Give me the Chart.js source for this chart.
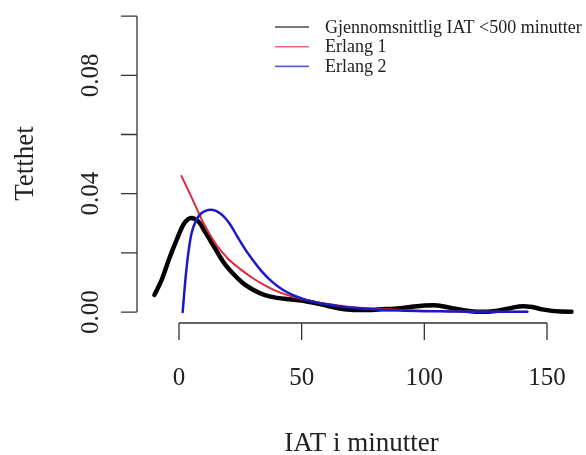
<!DOCTYPE html>
<html>
<head>
<meta charset="utf-8">
<script src="https://cdn.jsdelivr.net/npm/chart.js@4/dist/chart.umd.min.js"></script>
<style>
  body { margin: 0; background: #fff; }
  #wrap { width: 586px; height: 455px; }
</style>
</head>
<body>
<div id="wrap"><canvas id="myChart" width="586" height="455"></canvas></div>
<script>
// kernel density of mean IAT (< 500 min)
var densX = [-10, -7, -4, -1, 2, 5, 8, 11, 14, 18, 22, 26, 30, 35, 40, 45, 50, 55, 60, 65, 70, 75, 80, 85, 90, 95, 100, 104, 108, 112, 116, 120, 124, 128, 132, 136, 140, 144, 148, 152, 156, 160];
var densY = [0.0058, 0.011, 0.018, 0.0243, 0.0298, 0.0318, 0.0305, 0.0266, 0.0225, 0.017, 0.013, 0.0098, 0.0076, 0.0057, 0.0048, 0.0043, 0.0039, 0.0031, 0.0022, 0.0013, 0.0008, 0.0007, 0.0008, 0.001, 0.0013, 0.0018, 0.0022, 0.0023, 0.0019, 0.0012, 0.0006, 0.0002, 0.0001, 0.0003, 0.0008, 0.0015, 0.002, 0.0017, 0.0009, 0.0004, 0.0002, 0.0001];

// fitted Erlang 1
var erl1X = [1, 5, 10, 15, 20, 25, 30, 35, 40, 50, 60, 70, 80, 90, 100, 120, 142];
var erl1Y = [0.046, 0.039, 0.030, 0.023, 0.018, 0.0145, 0.0115, 0.009, 0.007, 0.0044, 0.0028, 0.0017, 0.0011, 0.0007, 0.0004, 0.0002, 0.0001];

// fitted Erlang 2
var erl2X = [1.5, 2.5, 3.5, 5, 7, 9, 11, 13, 15, 17, 19, 21, 24, 27, 30, 34, 38, 42, 46, 50, 55, 60, 65, 70, 75, 80, 90, 100, 110, 120, 130, 142];
var erl2Y = [0, 0.010, 0.018, 0.0262, 0.031, 0.0333, 0.0343, 0.0346, 0.0342, 0.0332, 0.0316, 0.0294, 0.0252, 0.0212, 0.0177, 0.0135, 0.0102, 0.0077, 0.0059, 0.0046, 0.0034, 0.0026, 0.002, 0.0015, 0.0012, 0.0009, 0.0005, 0.0003, 0.0002, 0.0001, 0.0001, 0.0001];

var xTicks = [0, 50, 100, 150];
var yTicks = [0, 0.02, 0.04, 0.06, 0.08, 0.10];
var yTickLabels = ['0.00', '', '0.04', '', '0.08', ''];

var seriesNames = ['Gjennomsnittlig IAT <500 minutter', 'Erlang 1', 'Erlang 2'];
var seriesColors = ['#000000', '#e0283c', '#1a1ac8'];

function points(xs, ys) {
    return xs.map(function(x, i) { return {x: x, y: ys[i]}; });
}

var serif = "'Liberation Serif', 'Times New Roman', serif";

// R-style axes, labels and legend
var baseAxes = {
    id: 'baseAxes',
    afterDraw: function(chart) {
        var ctx = chart.ctx;
        var xs = chart.scales.x, ys = chart.scales.y;
        var left = chart.chartArea.left, bottom = chart.chartArea.bottom;
        ctx.save();
        ctx.strokeStyle = '#333';
        ctx.lineWidth = 1.3;
        ctx.fillStyle = '#222';

        // y axis
        ctx.beginPath();
        ctx.moveTo(left, ys.getPixelForValue(yTicks[0]));
        ctx.lineTo(left, ys.getPixelForValue(yTicks[yTicks.length - 1]));
        yTicks.forEach(function(v) {
            var py = ys.getPixelForValue(v);
            ctx.moveTo(left, py);
            ctx.lineTo(left - 16, py);
        });
        ctx.stroke();
        ctx.font = '25px ' + serif;
        ctx.textAlign = 'center';
        ctx.textBaseline = 'alphabetic';
        yTicks.forEach(function(v, i) {
            if (!yTickLabels[i]) return;
            ctx.save();
            ctx.translate(98, ys.getPixelForValue(v));
            ctx.rotate(-Math.PI / 2);
            ctx.fillText(yTickLabels[i], 0, 0);
            ctx.restore();
        });

        // x axis
        ctx.beginPath();
        ctx.moveTo(xs.getPixelForValue(xTicks[0]), bottom);
        ctx.lineTo(xs.getPixelForValue(xTicks[xTicks.length - 1]), bottom);
        xTicks.forEach(function(v) {
            var px = xs.getPixelForValue(v);
            ctx.moveTo(px, bottom);
            ctx.lineTo(px, bottom + 17);
        });
        ctx.stroke();
        xTicks.forEach(function(v) {
            ctx.fillText(String(v), xs.getPixelForValue(v), 385);
        });

        // axis titles
        ctx.font = '27px ' + serif;
        var midX = (chart.chartArea.left + chart.chartArea.right) / 2;
        var midY = (chart.chartArea.top + chart.chartArea.bottom) / 2;
        ctx.fillText('IAT i minutter', midX, 451);
        ctx.save();
        ctx.translate(33, midY);
        ctx.rotate(-Math.PI / 2);
        ctx.fillText('Tetthet', 0, 0);
        ctx.restore();

        // legend
        ctx.font = '18px ' + serif;
        ctx.textAlign = 'left';
        ctx.textBaseline = 'middle';
        seriesNames.forEach(function(name, i) {
            var y = 27 + i * 19.7;
            ctx.globalAlpha = 0.7;
            ctx.strokeStyle = seriesColors[i];
            ctx.lineWidth = 1.6;
            ctx.beginPath();
            ctx.moveTo(275, y);
            ctx.lineTo(309, y);
            ctx.stroke();
            ctx.globalAlpha = 1;
            ctx.fillStyle = '#222';
            ctx.fillText(name, 325, y + 1);
        });
        ctx.restore();
    }
};

var ctx = document.getElementById('myChart').getContext('2d');
var chart = new Chart(ctx, {
    type: 'line',
    data: {
        datasets: [{
            label: seriesNames[0],
            data: points(densX, densY),
            borderColor: seriesColors[0],
            borderWidth: 4.5,
            order: 3
        }, {
            label: seriesNames[1],
            data: points(erl1X, erl1Y),
            borderColor: seriesColors[1],
            borderWidth: 2,
            order: 2
        }, {
            label: seriesNames[2],
            data: points(erl2X, erl2Y),
            borderColor: seriesColors[2],
            borderWidth: 2.5,
            order: 1
        }]
    },
    options: {
        responsive: false,
        animation: false,
        layout: { padding: { left: 137, top: 4, right: 0, bottom: 132 } },
        elements: {
            point: { radius: 0 },
            line: { cubicInterpolationMode: 'monotone', fill: false, borderCapStyle: 'round', borderJoinStyle: 'round' }
        },
        scales: {
            x: { type: 'linear', min: -17.12, max: 165.9, display: false },
            y: { type: 'linear', min: -0.0037, max: 0.1041, display: false }
        },
        plugins: {
            legend: { display: false },
            tooltip: { enabled: false }
        }
    },
    plugins: [baseAxes]
});
</script>
</body>
</html>
